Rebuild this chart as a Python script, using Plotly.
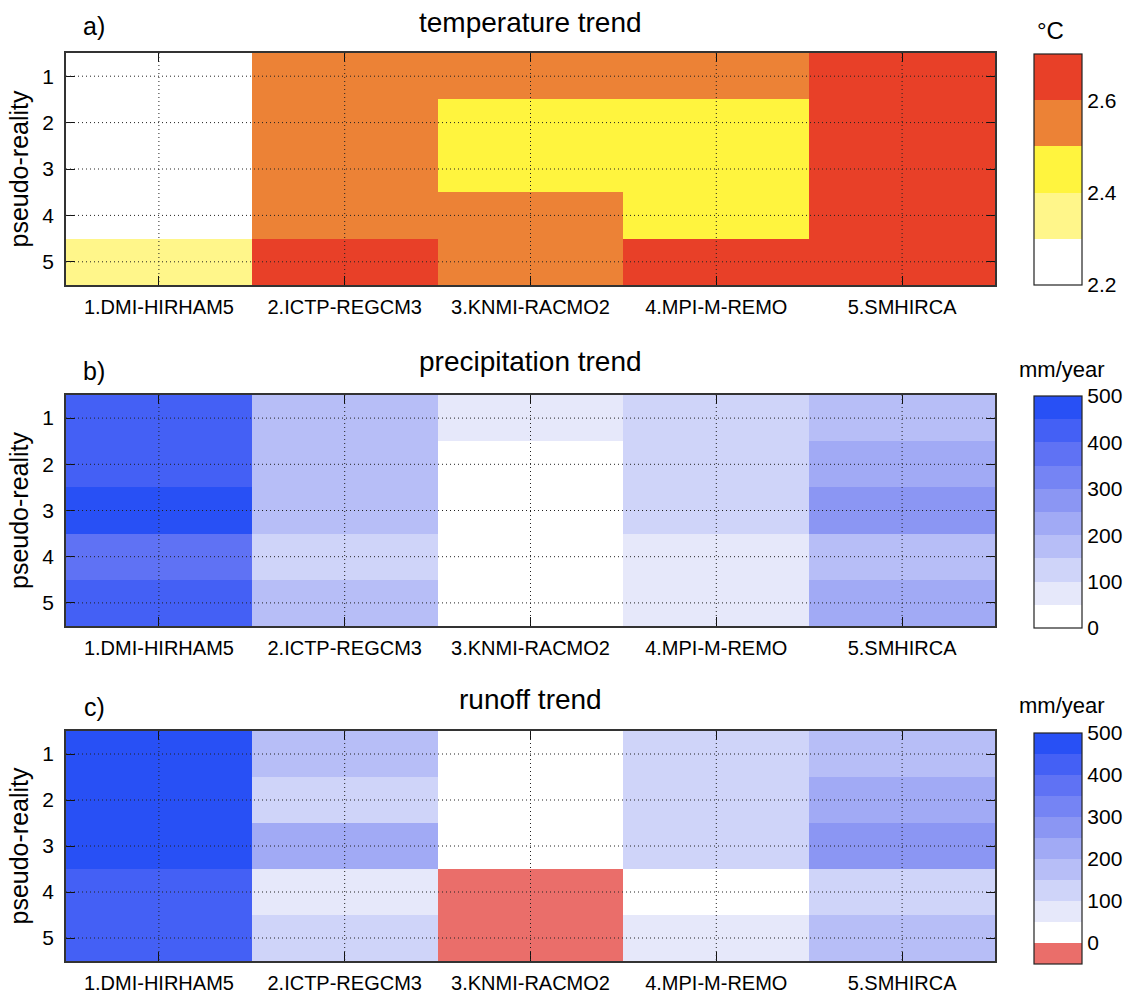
import plotly.graph_objects as go

models = ["1.DMI-HIRHAM5", "2.ICTP-REGCM3", "3.KNMI-RACMO2", "4.MPI-M-REMO", "5.SMHIRCA"]
pseudo = [1, 2, 3, 4, 5]

# values per model (rows = pseudo-reality 1..5)
temp = {
    "1.DMI-HIRHAM5": [2.25, 2.25, 2.25, 2.25, 2.35],
    "2.ICTP-REGCM3": [2.55, 2.55, 2.55, 2.55, 2.65],
    "3.KNMI-RACMO2": [2.55, 2.45, 2.45, 2.55, 2.55],
    "4.MPI-M-REMO": [2.55, 2.45, 2.45, 2.45, 2.65],
    "5.SMHIRCA": [2.65, 2.65, 2.65, 2.65, 2.65],
}
precip = {
    "1.DMI-HIRHAM5": [430, 430, 470, 380, 430],
    "2.ICTP-REGCM3": [180, 180, 180, 130, 180],
    "3.KNMI-RACMO2": [70, 20, 20, 20, 20],
    "4.MPI-M-REMO": [130, 130, 130, 80, 80],
    "5.SMHIRCA": [180, 230, 280, 180, 230],
}
runoff = {
    "1.DMI-HIRHAM5": [470, 470, 470, 430, 430],
    "2.ICTP-REGCM3": [180, 130, 230, 80, 130],
    "3.KNMI-RACMO2": [20, 20, 20, -20, -20],
    "4.MPI-M-REMO": [130, 130, 130, 20, 80],
    "5.SMHIRCA": [180, 230, 280, 130, 180],
}

temp_levels = [2.2, 2.3, 2.4, 2.5, 2.6, 2.7]
temp_colors = ["#FFFFFF", "#FFF68A", "#FFF43E", "#EC8236", "#E84028"]
temp_ticks = [2.2, 2.4, 2.6]

blue_levels = [0, 50, 100, 150, 200, 250, 300, 350, 400, 450, 500]
blue_colors = ["#FFFFFF", "#E6E8FA", "#CFD4F9", "#B7BEF7", "#A1AAF5", "#8B96F3",
               "#7584F4", "#5F72F4", "#4460F5", "#2850F5"]
blue_ticks = [0, 100, 200, 300, 400, 500]

run_levels = [-50] + blue_levels
run_colors = ["#EA6E6A"] + blue_colors

FONT = "Liberation Sans, Arial, Helvetica, sans-serif"
W, H = 1127, 995


def discrete_scale(levels, colors):
    lo, hi = levels[0], levels[-1]
    cs = []
    for i, c in enumerate(colors):
        a = (levels[i] - lo) / (hi - lo)
        b = (levels[i + 1] - lo) / (hi - lo)
        cs.append([a, c])
        cs.append([b, c])
    return cs


def to_rows(d):
    return [[d[m][r] for m in models] for r in range(len(pseudo))]


# pixel layout
x0, x1 = 66, 995
panels = [
    dict(data=temp, levels=temp_levels, colors=temp_colors, ticks=temp_ticks,
         top=53, bot=285, title="temperature trend", label="a)", unit="°C",
         ty=23, ly=26, uy=30, ux=1050, usize=24, cb=(54, 285), fmt=".1f"),
    dict(data=precip, levels=blue_levels, colors=blue_colors, ticks=blue_ticks,
         top=395, bot=626, title="precipitation trend", label="b)", unit="mm/year",
         ty=361, ly=371, uy=369, ux=1062, usize=22, cb=(396, 628), fmt="d"),
    dict(data=runoff, levels=run_levels, colors=run_colors, ticks=blue_ticks,
         top=731, bot=961, title="runoff trend", label="c)", unit="mm/year",
         ty=699, ly=707, uy=705, ux=1062, usize=22, cb=(733, 964), fmt="d"),
]

fig = go.Figure()
annotations = []
shapes = []
xpos = list(range(1, len(models) + 1))

for i, p in enumerate(panels):
    n = "" if i == 0 else str(i + 1)
    xa, ya = "x" + n, "y" + n
    cb_top, cb_bot = p["cb"]
    fig.add_trace(go.Heatmap(
        z=to_rows(p["data"]), x=xpos, y=pseudo,
        xaxis=xa, yaxis=ya,
        zmin=p["levels"][0], zmax=p["levels"][-1],
        colorscale=discrete_scale(p["levels"], p["colors"]),
        xgap=0, ygap=0, hoverinfo="z",
        colorbar=dict(
            x=1034 / W, xanchor="left", y=1 - (cb_top + cb_bot) / 2 / H, yanchor="middle",
            len=cb_bot - cb_top, lenmode="pixels", thickness=48, thicknessmode="pixels",
            outlinecolor="#222", outlinewidth=1.2,
            tickvals=p["ticks"], tickformat=p["fmt"], ticks="",
            tickfont=dict(family=FONT, size=21, color="black"), xpad=0, ypad=0,
        ),
    ))
    dom_y = [1 - p["bot"] / H, 1 - p["top"] / H]
    xkey = "xaxis" + n
    ykey = "yaxis" + n
    fig.layout[xkey] = dict(
        domain=[x0 / W, x1 / W], anchor=ya, range=[0.5, len(models) + 0.5],
        tickvals=xpos, ticktext=models, ticks="inside", ticklen=9, tickcolor="#111",
        showline=True, linecolor="#333", linewidth=1.5, mirror="ticks",
        showgrid=False, zeroline=False, layer="above traces",
        tickfont=dict(family=FONT, size=20, color="black"), ticklabelstandoff=3,
    )
    fig.layout[ykey] = dict(
        domain=dom_y, anchor=xa, range=[len(pseudo) + 0.5, 0.5],
        tickvals=pseudo, ticks="inside", ticklen=9, tickcolor="#111",
        showline=True, linecolor="#333", linewidth=1.5, mirror="ticks",
        showgrid=False, zeroline=False, layer="above traces",
        tickfont=dict(family=FONT, size=21, color="black"), ticklabelstandoff=6,
        title=dict(text="pseudo-reality", font=dict(family=FONT, size=25, color="black"), standoff=7),
    )
    # dotted grid lines at tick positions, drawn above the cells
    for xv in xpos:
        shapes.append(dict(type="line", xref=xa, yref=ya, x0=xv, x1=xv,
                           y0=0.5, y1=len(pseudo) + 0.5,
                           line=dict(color="#222", width=1, dash="1px,3px"), layer="above"))
    for yv in pseudo:
        shapes.append(dict(type="line", xref=xa, yref=ya, y0=yv, y1=yv,
                           x0=0.5, x1=len(models) + 0.5,
                           line=dict(color="#222", width=1, dash="1px,3px"), layer="above"))
    annotations.append(dict(text=p["title"], x=(x0 + x1) / 2 / W, y=1 - p["ty"] / H,
                            xref="paper", yref="paper", showarrow=False,
                            xanchor="center", yanchor="middle",
                            font=dict(family=FONT, size=28, color="black")))
    annotations.append(dict(text=p["label"], x=94 / W, y=1 - p["ly"] / H,
                            xref="paper", yref="paper", showarrow=False,
                            xanchor="center", yanchor="middle",
                            font=dict(family=FONT, size=25, color="black")))
    annotations.append(dict(text=p["unit"], x=p["ux"] / W, y=1 - p["uy"] / H,
                            xref="paper", yref="paper", showarrow=False,
                            xanchor="center", yanchor="middle",
                            font=dict(family=FONT, size=p["usize"], color="black")))

fig.update_layout(
    width=W, height=H, margin=dict(l=0, r=0, t=0, b=0),
    paper_bgcolor="white", plot_bgcolor="white",
    annotations=annotations, shapes=shapes, showlegend=False,
    font=dict(family=FONT, color="black"),
)

fig.write_html("out.html")
